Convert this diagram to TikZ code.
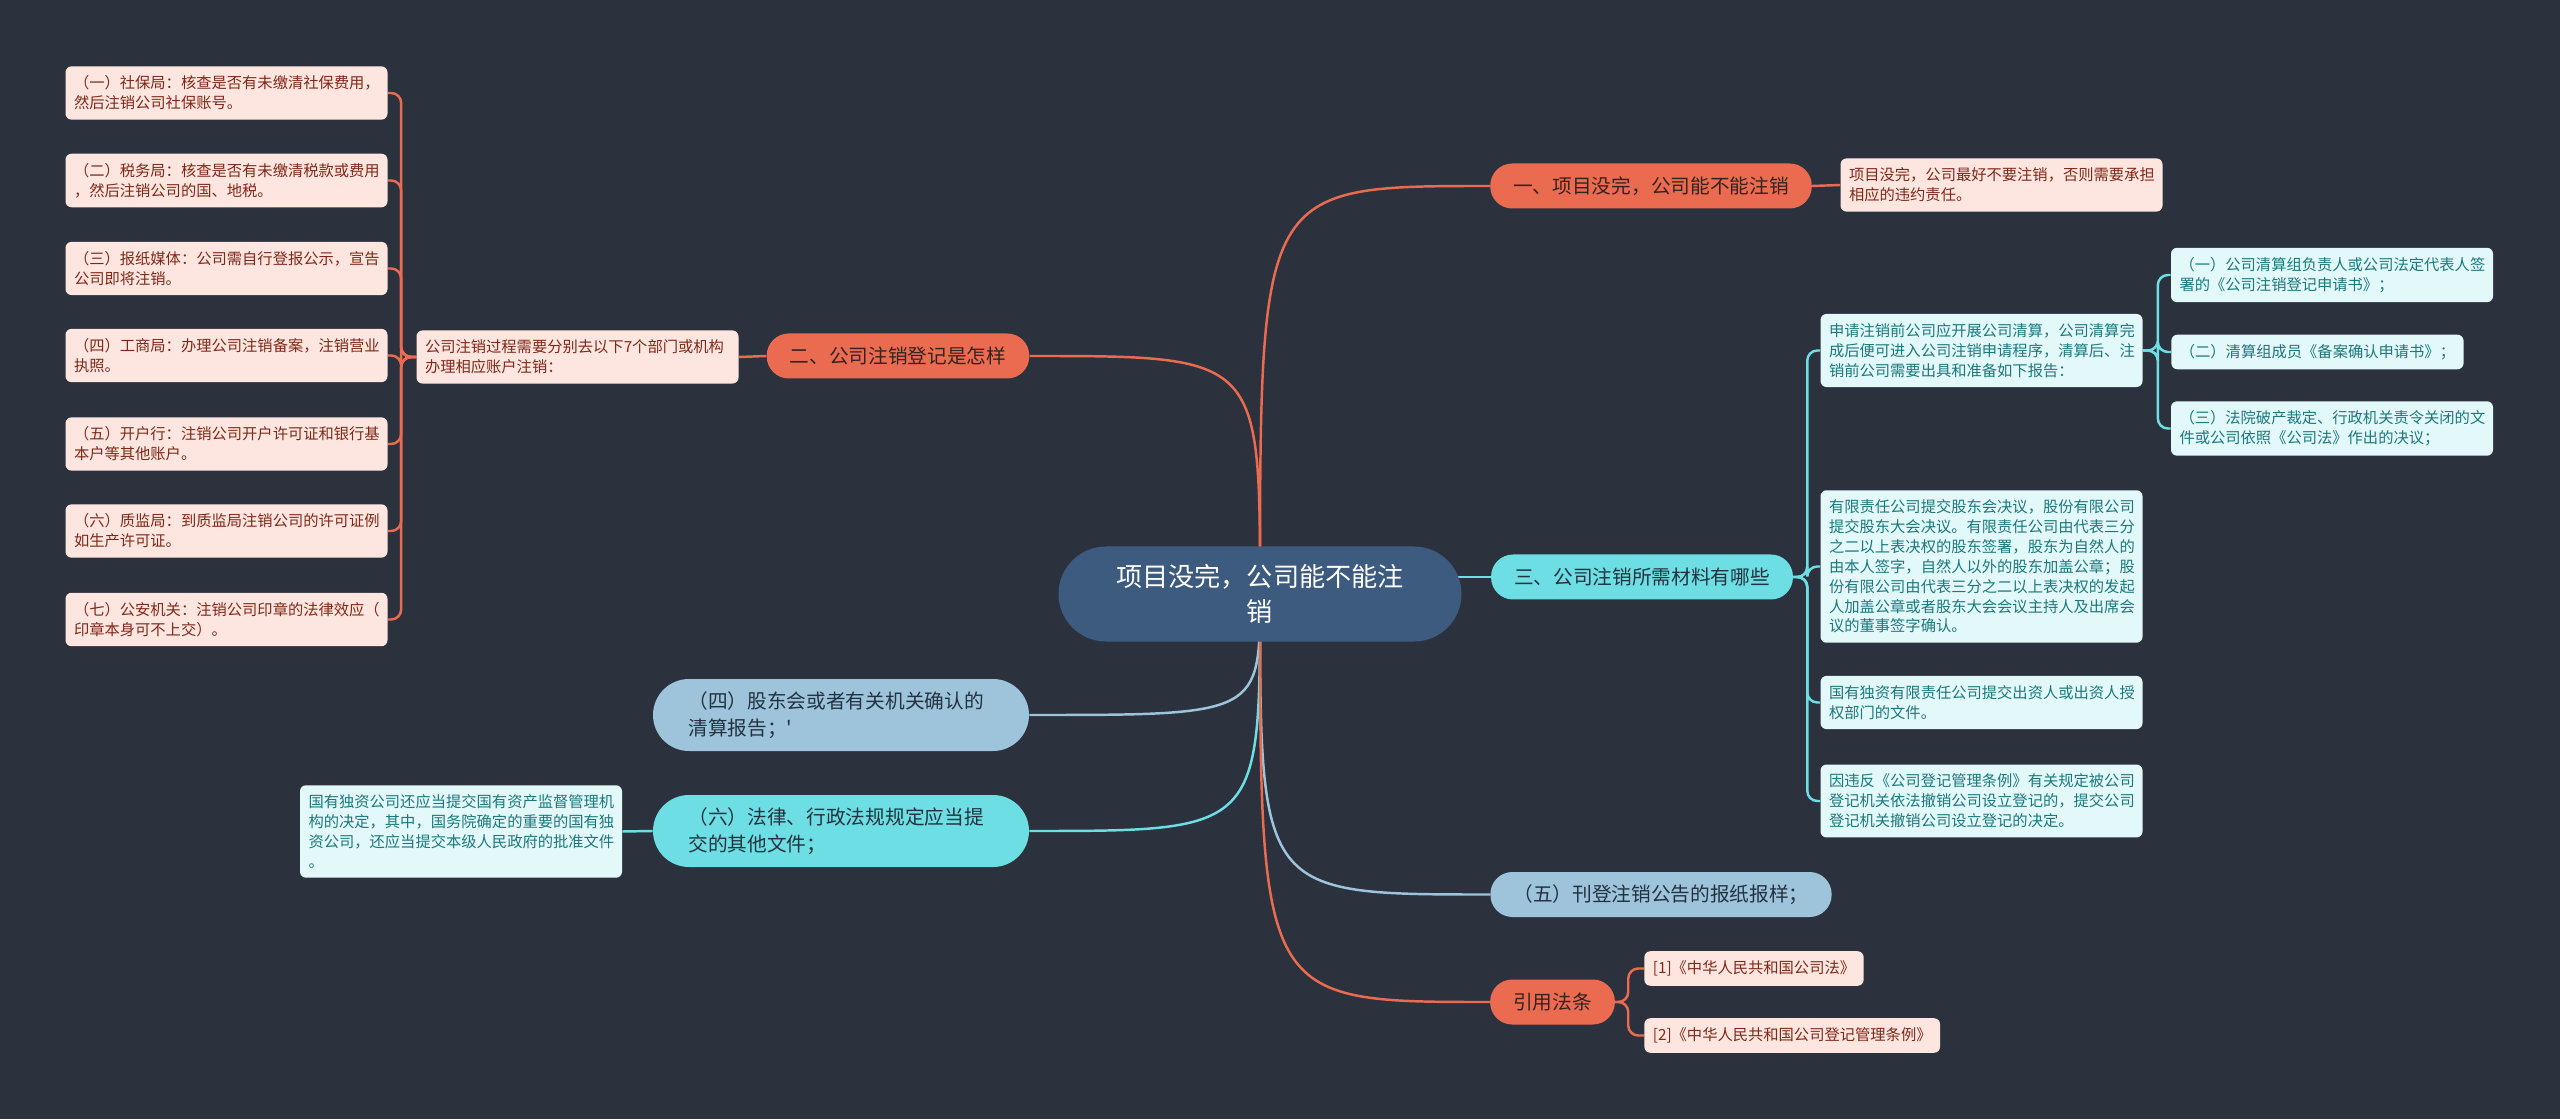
\documentclass[tikz,border=0pt]{standalone}
\usepackage{fontspec}
\newfontfamily\cjk{Noto Sans CJK SC}
\usepackage{xcolor}
\definecolor{BgDark}{RGB}{43,50,62}
\definecolor{RootBlue}{RGB}{61,90,127}
\definecolor{TopicOrange}{RGB}{235,107,80}
\definecolor{TopicCyan}{RGB}{108,222,228}
\definecolor{TopicBlue}{RGB}{157,196,219}
\definecolor{FillPink}{RGB}{253,230,224}
\definecolor{FillIce}{RGB}{226,248,249}
\definecolor{TextBrown}{RGB}{128,40,24}
\definecolor{TextTeal}{RGB}{28,120,124}
\definecolor{TextDark}{RGB}{50,36,32}
\definecolor{TextSlate}{RGB}{35,50,62}
\usepackage{tikz}
\usetikzlibrary{
  positioning, calc, backgrounds
}
\tikzset{
  % Central topic
  rootbox/.style={
    rectangle, rounded corners=0.95cm,
    fill=RootBlue, text=white,
    align=center,
    minimum width=8.06cm, minimum height=1.9cm,
    font=\cjk\fontsize{14.9}{19.6}\selectfont,
    inner sep=0pt
  },
  % Main topic pills
  topic/.style={
    rectangle, rounded corners=0.44cm,
    minimum height=0.9cm,
    align=center,
    font=\cjk\fontsize{11.2}{15}\selectfont,
    inner xsep=0.46cm, inner ysep=0pt
  },
  topic orange/.style={topic, fill=TopicOrange, text=TextDark},
  topic cyan/.style={topic, fill=TopicCyan, text=TextSlate},
  topic blue/.style={topic, fill=TopicBlue, text=TextSlate},
  % Two-line pills
  topic wide/.style={
    rounded corners=0.72cm, minimum height=1.44cm,
    text width=6.1cm, align=left, inner xsep=0.71cm
  },
  % Leaf note boxes
  leaf/.style={
    rectangle, rounded corners=0.12cm,
    align=left, text width=6.1cm,
    font=\cjk\fontsize{8.7}{11.3}\selectfont,
    inner xsep=0.17cm, inner ysep=0.19cm
  },
  leaf pink/.style={leaf, fill=FillPink, text=TextBrown},
  leaf ice/.style={leaf, fill=FillIce, text=TextTeal},
  % One-line tags
  tag/.style={
    rectangle, rounded corners=0.12cm,
    font=\cjk\fontsize{8.7}{11.3}\selectfont,
    inner xsep=0.17cm, inner ysep=0.19cm
  },
  tag pink/.style={tag, fill=FillPink, text=TextBrown},
  tag ice/.style={tag, fill=FillIce, text=TextTeal},
  % Connectors
  link/.style={line width=1.4pt, rounded corners=0.2cm},
  link orange/.style={link, draw=TopicOrange},
  link cyan/.style={link, draw=TopicCyan},
  link blue/.style={link, draw=TopicBlue},
}

\begin{document}
\begin{tikzpicture}
  \useasboundingbox (0,0) rectangle (51.2,-22.38);

  % Centre
  \node[rootbox] (root) at (25.2,-11.88) {项目没完，公司能不能注\\销};

  % Branch one
  \node[topic orange] (t1) at (33.02,-3.72) {一、项目没完，公司能不能注销};
  \node[leaf pink] (t1n) at (40.03,-3.70) {项目没完，公司最好不要注销，否则需要承担\\相应的违约责任。};

  % Branch two and the seven offices
  \node[topic orange] (t2) at (17.96,-7.12) {二、公司注销登记是怎样};
  \node[leaf pink] (t2n) at (11.55,-7.14) {公司注销过程需要分别去以下7个部门或机构\\办理相应账户注销：};
  \node[leaf pink] (d1) at (4.53,-1.86) {（一）社保局：核查是否有未缴清社保费用，\\然后注销公司社保账号。};
  \node[leaf pink] (d2) at (4.53,-3.61) {（二）税务局：核查是否有未缴清税款或费用\\，然后注销公司的国、地税。};
  \node[leaf pink] (d3) at (4.53,-5.37) {（三）报纸媒体：公司需自行登报公示，宣告\\公司即将注销。};
  \node[leaf pink] (d4) at (4.53,-7.11) {（四）工商局：办理公司注销备案，注销营业\\执照。};
  \node[leaf pink] (d5) at (4.53,-8.88) {（五）开户行：注销公司开户许可证和银行基\\本户等其他账户。};
  \node[leaf pink] (d6) at (4.53,-10.62) {（六）质监局：到质监局注销公司的许可证例\\如生产许可证。};
  \node[leaf pink] (d7) at (4.53,-12.39) {（七）公安机关：注销公司印章的法律效应（\\印章本身可不上交）。};
  \coordinate[left=0.3cm of t2n.west] (spL);

  % Branch three and materials
  \node[topic cyan] (t3) at (32.84,-11.54) {三、公司注销所需材料有哪些};
  \node[leaf ice] (m1) at (39.63,-7.01) {申请注销前公司应开展公司清算，公司清算完\\成后便可进入公司注销申请程序，清算后、注\\销前公司需要出具和准备如下报告：};
  \node[leaf ice] (m2) at (39.63,-11.33) {有限责任公司提交股东会决议，股份有限公司\\提交股东大会决议。有限责任公司由代表三分\\之二以上表决权的股东签署，股东为自然人的\\由本人签字，自然人以外的股东加盖公章；股\\份有限公司由代表三分之二以上表决权的发起\\人加盖公章或者股东大会会议主持人及出席会\\议的董事签字确认。};
  \node[leaf ice] (m3) at (39.63,-14.05) {国有独资有限责任公司提交出资人或出资人授\\权部门的文件。};
  \node[leaf ice] (m4) at (39.63,-16.02) {因违反《公司登记管理条例》有关规定被公司\\登记机关依法撤销公司设立登记的，提交公司\\登记机关撤销公司设立登记的决定。};
  \coordinate[right=0.28cm of t3.east] (spR);
  \node[leaf ice] (m1a) at (46.64,-5.50) {（一）公司清算组负责人或公司法定代表人签\\署的《公司注销登记申请书》；};
  \node[tag ice, anchor=west] (m1b) at (43.42,-7.04) {（二）清算组成员《备案确认申请书》；};
  \node[leaf ice] (m1c) at (46.64,-8.57) {（三）法院破产裁定、行政机关责令关闭的文\\件或公司依照《公司法》作出的决议；};
  \coordinate[right=0.3cm of m1.east] (spA);

  % Lower left topics
  \node[topic blue, topic wide] (t4) at (16.82,-14.30) {（四）股东会或者有关机关确认的\\清算报告；'};
  \node[topic cyan, topic wide] (t6) at (16.82,-16.62) {（六）法律、行政法规规定应当提\\交的其他文件；};
  \node[leaf ice] (t6n) at (9.22,-16.63) {国有独资公司还应当提交国有资产监督管理机\\构的决定，其中，国务院确定的重要的国有独\\资公司，还应当提交本级人民政府的批准文件\\。};

  % Lower right topics
  \node[topic blue] (t5) at (33.22,-17.89) {（五）刊登注销公告的报纸报样；};
  \node[topic orange] (tref) at (31.05,-20.04) {引用法条};
  \node[tag pink, anchor=west] (ref1) at (32.88,-19.37) {[1]《中华人民共和国公司法》};
  \node[tag pink, anchor=west] (ref2) at (32.88,-20.71) {[2]《中华人民共和国公司登记管理条例》};
  \coordinate[right=0.26cm of tref.east] (spF);

  \begin{scope}[on background layer]
    \fill[BgDark] (0,0) rectangle (51.2,-22.38);

    % root to topics
    \draw[link orange] (root.center) .. controls (root.center |- t1.west) .. (t1.west);
    \draw[link orange] (root.center) .. controls (root.center |- t2.east) .. (t2.east);
    \draw[link cyan] (root.center |- t3.west) -- (t3.west);
    \draw[link blue] (root.center) .. controls (root.center |- t4.east) .. (t4.east);
    \draw[link cyan] (root.center) .. controls (root.center |- t6.east) .. (t6.east);
    \draw[link blue] (root.center) .. controls (root.center |- t5.west) .. (t5.west);
    \draw[link orange] (root.center) .. controls (root.center |- tref.west) .. (tref.west);

    % topic to notes
    \draw[link orange] (t1.east) -- (t1n.west);
    \draw[link orange] (t2.west) -- (t2n.east);
    \draw[link cyan] (t6.west) -- (t6n.east);
    \draw[link orange] (t2n.west) -- (spL) |- (d1.east);
    \draw[link orange] (t2n.west) -- (spL) |- (d2.east);
    \draw[link orange] (t2n.west) -- (spL) |- (d3.east);
    \draw[link orange] (t2n.west) -- (spL) |- (d4.east);
    \draw[link orange] (t2n.west) -- (spL) |- (d5.east);
    \draw[link orange] (t2n.west) -- (spL) |- (d6.east);
    \draw[link orange] (t2n.west) -- (spL) |- (d7.east);
    \draw[link cyan] (t3.east) -- (spR) |- (m1.west);
    \draw[link cyan] (t3.east) -- (spR) |- (m2.west);
    \draw[link cyan] (t3.east) -- (spR) |- (m3.west);
    \draw[link cyan] (t3.east) -- (spR) |- (m4.west);
    \draw[link cyan] (m1.east) -- (spA) |- (m1a.west);
    \draw[link cyan] (m1.east) -- (spA) |- (m1b.west);
    \draw[link cyan] (m1.east) -- (spA) |- (m1c.west);
    \draw[link orange] (tref.east) -- (spF) |- (ref1.west);
    \draw[link orange] (tref.east) -- (spF) |- (ref2.west);
  \end{scope}
\end{tikzpicture}
\end{document}
